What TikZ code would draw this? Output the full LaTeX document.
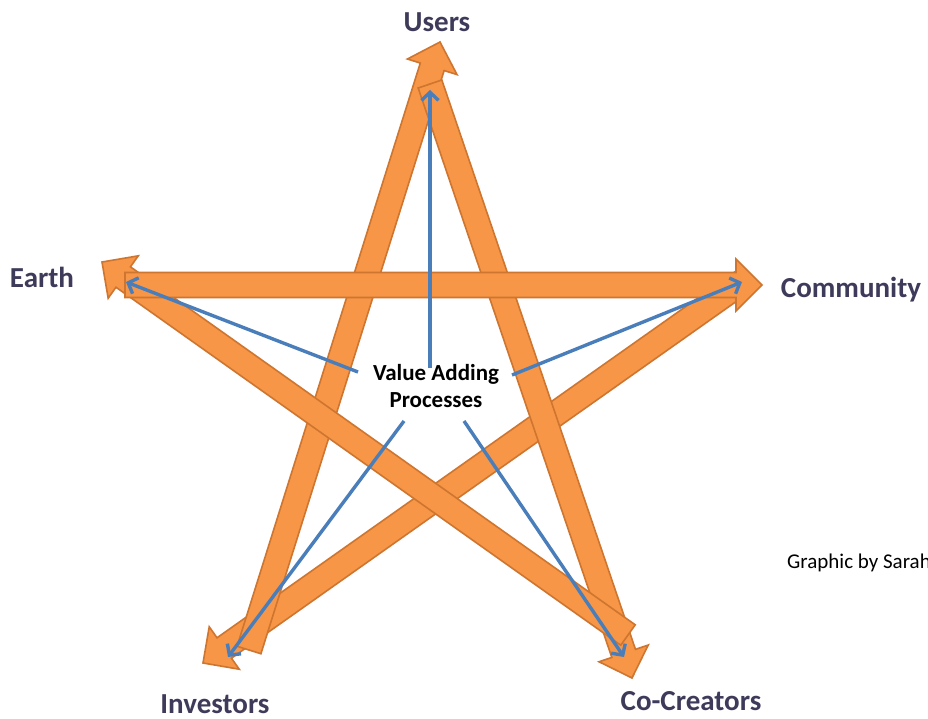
\documentclass[tikz,border=0pt]{standalone}
\usepackage{fontspec}
\setmainfont{Carlito}
\usetikzlibrary{calc,arrows.meta}
\definecolor{arrowfill}{HTML}{F79646}
\definecolor{arrowline}{HTML}{CE7530}
\definecolor{bluearrow}{HTML}{4A7EBB}
\definecolor{labelcol}{HTML}{3E3A5A}
\tikzset{
  blockarr/.style={fill=arrowfill, draw=arrowline, line width=1.6pt, line join=miter},
  bluearr/.style={draw=bluearrow, line width=3.4pt, -{Straight Barb[length=8pt,width=17pt]}},
  lbl/.style={text=labelcol, font=\bfseries\fontsize{29}{31}\selectfont, inner sep=0pt, anchor=base},
}
\newcommand{\blockarrow}[2]{%
  \path ($(#2)!26pt!(#1)$) coordinate (hb);
  \path[blockarr] ($(#1)!12.5pt!90:(#2)$) -- ($(hb)!12.5pt!90:(#2)$) -- ($(hb)!26pt!90:(#2)$) -- (#2)
    -- ($(hb)!26pt!-90:(#2)$) -- ($(hb)!12.5pt!-90:(#2)$) -- ($(#1)!12.5pt!-90:(#2)$) -- cycle;
}
\begin{document}
\begin{tikzpicture}[x=1pt,y=-1pt]
\useasboundingbox (0,0) rectangle (928,719);
\fill[white] (0,0) rectangle (928,719);
% end points of the orange arrows
\coordinate (e1s) at (125,285);
\coordinate (e1t) at (762,285);
\coordinate (e2s) at (745,280);
\coordinate (e2t) at (203,663);
\coordinate (e3s) at (249,650);
\coordinate (e3t) at (440,42);
\coordinate (e4s) at (430,84);
\coordinate (e4t) at (632,678);
\coordinate (e5s) at (628,635);
\coordinate (e5t) at (102,262);
% orange arrows (bottom to top)
\blockarrow{e2s}{e2t}
\blockarrow{e3s}{e3t}
\blockarrow{e4s}{e4t}
\blockarrow{e5s}{e5t}
\blockarrow{e1s}{e1t}
% labels
\node[lbl] (users) at (437,32) {Users};
\node[lbl] (earth) at (42,287) {Earth};
\node[lbl] (community) at (851,297) {Community};
\node[lbl] (investors) at (215,713) {Investors};
\node[lbl] (cocreators) at (691,710) {Co-Creators};
% centre
\node[align=center, font=\bfseries\fontsize{23}{27}\selectfont, inner sep=0pt] (vap) at (436,386) {Value Adding\\Processes};
% blue arrows
\coordinate (b1s) at (430,368); \coordinate (b1t) at (430,90);
\coordinate (b2s) at (358,372); \coordinate (b2t) at (126,282);
\coordinate (b3s) at (512,375); \coordinate (b3t) at (742,282);
\coordinate (b4s) at (404,421); \coordinate (b4t) at (228,657);
\coordinate (b5s) at (464,421); \coordinate (b5t) at (624,657);
\draw[bluearr] (b1s) -- (b1t);
\draw[bluearr] (b2s) -- (b2t);
\draw[bluearr] (b3s) -- (b3t);
\draw[bluearr] (b4s) -- (b4t);
\draw[bluearr] (b5s) -- (b5t);
% credit
\node[anchor=base west, inner sep=0pt, font=\fontsize{21}{23}\selectfont] (credit) at (787,568) {Graphic by Sarah};
\end{tikzpicture}
\end{document}
